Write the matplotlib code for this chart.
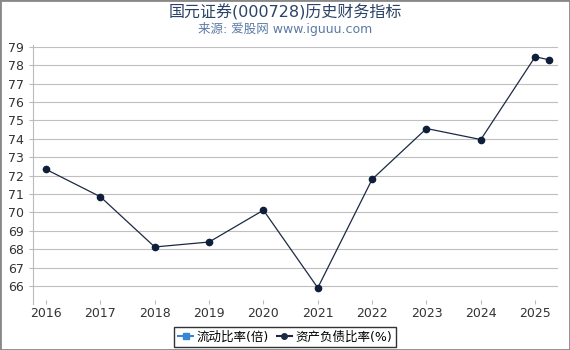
import matplotlib.pyplot as plt
from matplotlib.lines import Line2D

plt.rcParams['font.family'] = ['DejaVu Sans', 'Noto Sans CJK SC']

years = [2016, 2017, 2018, 2019, 2020, 2021, 2022, 2023, 2024, 2025, 2025.25]
debt_ratio = [72.34, 70.85, 68.12, 68.39, 70.12, 65.90, 71.80, 74.56, 73.96, 78.46, 78.30]
xticks = [2016, 2017, 2018, 2019, 2020, 2021, 2022, 2023, 2024, 2025]
yticks = list(range(66, 80))

fig = plt.figure(figsize=(5.7, 3.5), dpi=100)
ax = fig.add_axes([33/570, 1-304/350, 525/570, 259/350])

ax.plot(years, debt_ratio, color='#1b2a44', lw=0.9, marker='o', ms=4.5,
        markerfacecolor='#0f1f3a', markeredgecolor='#0f1f3a')

ax.set_xlim(2015.76, 2025.42)
ax.set_ylim(65.02, 79.1)
ax.set_xticks(xticks)
ax.set_yticks(yticks)
ax.grid(axis='y', color='#bfbfbf', lw=0.8)
ax.set_axisbelow(True)
for s in ['top', 'right', 'bottom']:
    ax.spines[s].set_visible(False)
ax.spines['left'].set_color('#bbbbbb')
ax.tick_params(axis='both', colors='#bbbbbb', labelcolor='#333333', labelsize=9, length=3)
ax.tick_params(axis='x', direction='in', pad=2)

fig.text(0.5, 0.965, '国元证券(000728)历史财务指标', ha='center', va='center',
         fontsize=11.5, color='#2b4366')
fig.text(0.5, 0.918, '来源: 爱股网 www.iguuu.com', ha='center', va='center',
         fontsize=9, color='#5b7ba3')

handles = [Line2D([], [], color='#3a86d6', marker='s', ms=4, lw=1.5),
           Line2D([], [], color='#1b2a44', marker='o', ms=4, lw=1.5)]
leg = fig.legend(handles, ['流动比率(倍)', '资产负债比率(%)'], loc='center',
                 bbox_to_anchor=(0.5, 1-337/350), ncol=2, fontsize=9,
                 frameon=True, fancybox=False, handlelength=1.2,
                 handletextpad=0.3, columnspacing=0.6, borderpad=0.3)
leg.get_frame().set_edgecolor('black')
leg.get_frame().set_linewidth(1.0)

fig.patches.append(plt.Rectangle((0, 0), 1, 1, transform=fig.transFigure,
                                 fill=False, edgecolor='#888888', lw=2))

fig.savefig('out.png', dpi=100)
